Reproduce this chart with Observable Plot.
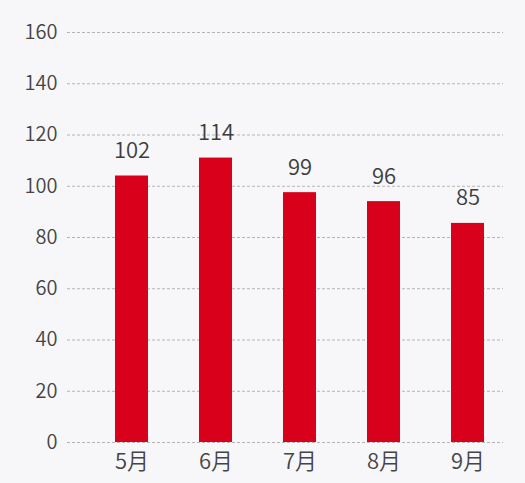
<!DOCTYPE html>
<html>
<head>
<meta charset="utf-8">
<script src="https://cdn.jsdelivr.net/npm/d3@7"></script>
<script src="https://cdn.jsdelivr.net/npm/@observablehq/plot@0.6"></script>
<style>
  html, body { margin: 0; padding: 0; background: #f7f7f9; }
  #chart svg { display: block; background: #f7f7f9; }
</style>
</head>
<body>
<div id="chart"></div>
<script>
const months = ["5月", "6月", "7月", "8月", "9月"];
const barValues = [104, 111, 97.5, 94, 85.5];
const labelValues = [102, 114, 99, 96, 85];
const yTicks = [0, 20, 40, 60, 80, 100, 120, 140, 160];

const data = months.map((m, i) => ({month: m, bar: barValues[i], label: labelValues[i]}));

const chart = Plot.plot({
  width: 525,
  height: 483,
  marginLeft: 67,
  marginRight: 22,
  marginTop: 32,
  marginBottom: 41,
  style: {background: "#f7f7f9", fontFamily: "'Noto Sans CJK SC', 'Noto Sans', sans-serif", fontWeight: 350},
  x: {domain: months, paddingInner: 0.61, paddingOuter: 0.382, align: 0.72, label: null},
  y: {domain: [0, 160], label: null},
  marks: [
    Plot.gridY(yTicks, {stroke: "#b4b4b4", strokeOpacity: 1, strokeDasharray: "3,2"}),
    Plot.barY(data, {x: "month", y: "bar", fill: "#d9001b"}),
    Plot.text(data, {x: "month", y: "bar", text: d => String(d.label), dy: -25, fontSize: 22, fill: "#3d3d3d"}),
    Plot.axisY(yTicks, {tickSize: 0, tickPadding: 10, fontSize: 20, color: "#444", label: null}),
    Plot.axisX({tickSize: 0, tickPadding: 11, fontSize: 22, color: "#444", label: null})
  ]
});
document.getElementById("chart").appendChild(chart);
</script>
</body>
</html>
